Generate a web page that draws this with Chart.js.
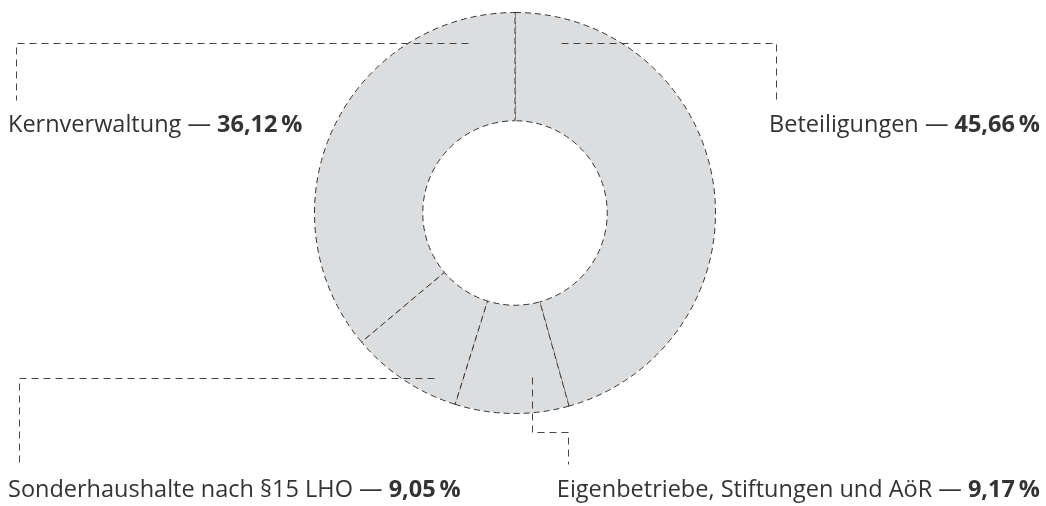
<!DOCTYPE html>
<html>
<head>
<meta charset="utf-8">
<script src="https://cdn.jsdelivr.net/npm/chart.js@4"></script>
<style>
  html, body { margin: 0; padding: 0; background: #fff; }
  #wrap { width: 1046px; height: 506px; position: relative; }
</style>
</head>
<body>
<div id="wrap"><canvas id="chart-share"></canvas></div>
<script>
// Anteile in Prozent, im Uhrzeigersinn ab 12 Uhr
const categories = ['Beteiligungen', 'Eigenbetriebe, Stiftungen und AöR', 'Sonderhaushalte nach §15 LHO', 'Kernverwaltung'];
const shares = [45.66, 9.17, 9.05, 36.12];

const FONT = '"Open Sans", "Noto Sans", sans-serif';
const SIZE = 23.5;
const INK = '#333';

// leader lines, offsets relative to doughnut centre (px)
const leaders = [
  { path: [[46, -170], [261, -170], [261, -113]], text: [525, -81], align: 'right' },
  { path: [[17, 164], [17, 219], [53, 219], [53, 251]], text: [525, 284], align: 'right' },
  { path: [[-81, 165], [-496, 165], [-496, 252]], text: [-507, 284], align: 'left' },
  { path: [[-47, -170], [-499, -170], [-499, -113]], text: [-507, -81], align: 'left' },
];

const fmt = v => v.toFixed(2).replace('.', ',') + '\u2009%';

const leaderPlugin = {
  id: 'leaders',
  afterDatasetsDraw(chart) {
    const ctx = chart.ctx;
    const arcs = chart.getDatasetMeta(0).data;
    const cx = arcs[0].x, cy = arcs[0].y;
    ctx.save();
    ctx.strokeStyle = '#444';
    ctx.lineWidth = 1;
    ctx.setLineDash([7, 5]);
    leaders.forEach((l, i) => {
      ctx.beginPath();
      l.path.forEach(([dx, dy], j) => {
        if (j === 0) ctx.moveTo(cx + dx + 0.5, cy + dy + 0.5);
        else ctx.lineTo(cx + dx + 0.5, cy + dy + 0.5);
      });
      ctx.stroke();

      const name = categories[i] + ' \u2014 ';
      const pct = fmt(shares[i]);
      ctx.font = `400 ${SIZE}px ${FONT}`;
      const w1 = ctx.measureText(name).width;
      ctx.font = `700 ${SIZE}px ${FONT}`;
      const w2 = ctx.measureText(pct).width;
      let x = cx + l.text[0];
      if (l.align === 'right') x -= w1 + w2;
      const y = cy + l.text[1];
      ctx.fillStyle = INK;
      ctx.textBaseline = 'alphabetic';
      ctx.textAlign = 'left';
      ctx.font = `400 ${SIZE}px ${FONT}`;
      ctx.fillText(name, x, y);
      ctx.font = `700 ${SIZE}px ${FONT}`;
      ctx.fillText(pct, x + w1, y);
    });
    ctx.restore();
  }
};

new Chart(document.getElementById('chart-share'), {
  type: 'doughnut',
  data: {
    labels: categories,
    datasets: [{
      data: shares,
      backgroundColor: '#dcdddf',
      borderColor: '#333',
      borderWidth: 1,
      borderDash: [6, 4],
      borderAlign: 'center',
    }]
  },
  options: {
    responsive: true,
    maintainAspectRatio: false,
    animation: false,
    cutout: '46%',
    layout: { padding: { top: 12, bottom: 92, left: 0, right: 16 } },
    plugins: {
      legend: { display: false },
      tooltip: { enabled: false },
    },
  },
  plugins: [leaderPlugin],
});
</script>
</body>
</html>
